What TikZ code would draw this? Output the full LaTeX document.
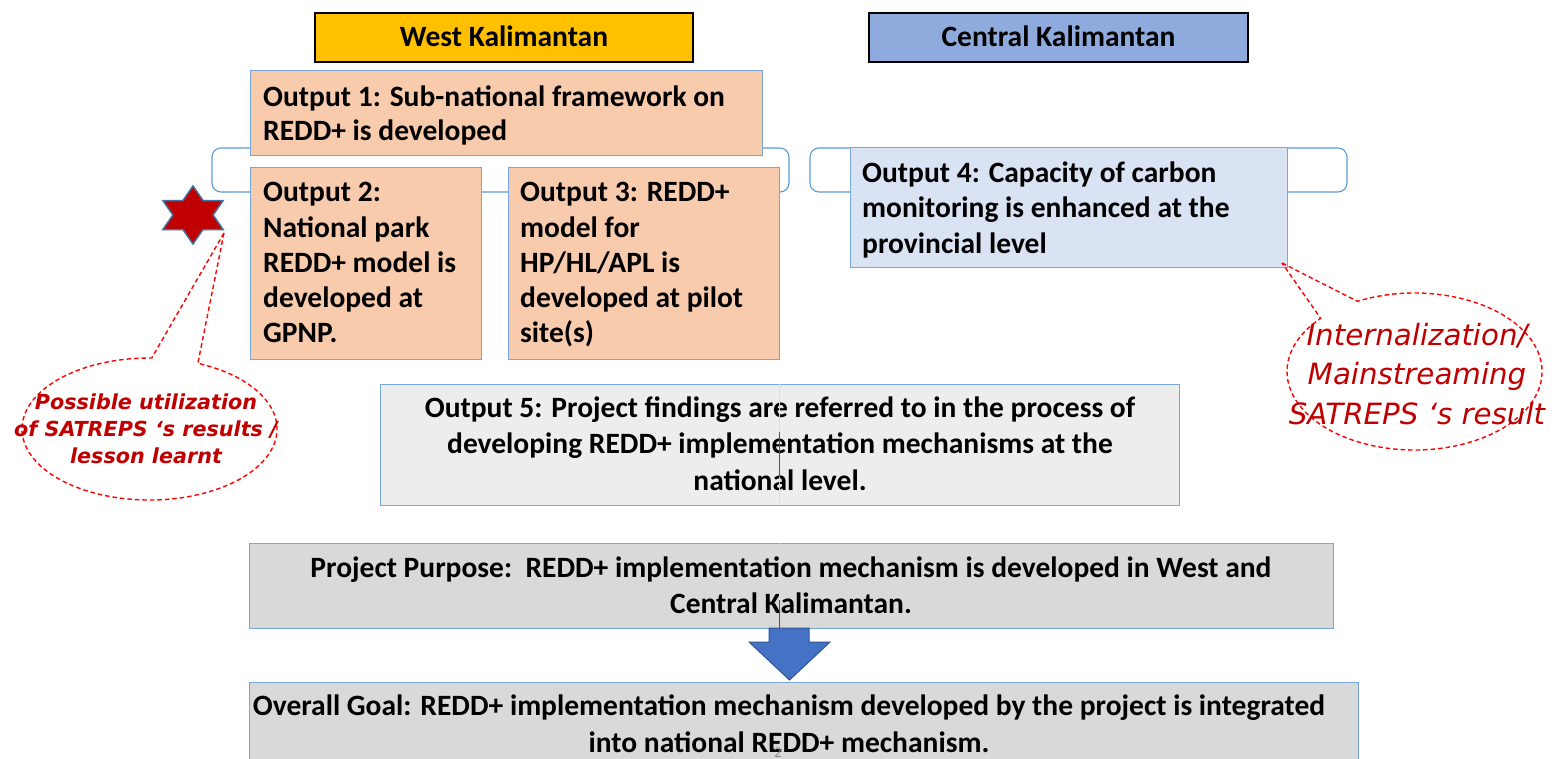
\documentclass[tikz,border=0pt]{standalone}
\usepackage{fontspec}
\setmainfont{Carlito}
\newfontfamily\djv{DejaVu Sans}
\definecolor{peach}{HTML}{F8CBAD}
\definecolor{lblue}{HTML}{DAE3F3}
\definecolor{lgrey}{HTML}{EDEDED}
\definecolor{mgrey}{HTML}{D9D9D9}
\definecolor{gold}{HTML}{FFC000}
\definecolor{cblue}{HTML}{8FAADC}
\definecolor{edge}{HTML}{7AA7DB}
\definecolor{brk}{HTML}{5B9BD5}
\definecolor{callred}{HTML}{FF0000}
\definecolor{txtred}{HTML}{C00000}
\definecolor{arrowfill}{HTML}{4472C4}
\definecolor{arrowedge}{HTML}{2F5597}
\definecolor{staredge}{HTML}{41719C}
\definecolor{pagegrey}{HTML}{8C8C8C}
\newcommand{\mainfs}[1]{\bfseries\fontsize{29.5}{#1}\selectfont}
\begin{document}
\begin{tikzpicture}[x=1pt,y=-1pt,
  box/.style={draw=edge, line width=1.3pt, inner sep=0pt, anchor=north west, rectangle},
  hdr/.style={draw=black, line width=2.2pt, inner sep=0pt, font=\mainfs{35}, text height=20pt, text depth=2pt},
  txt/.style={inner sep=0pt},
  bracket/.style={draw=brk, line width=1.1pt, rounded corners=9pt},
  callout/.style={draw=callred, line width=1.4pt, dash pattern=on 4.5pt off 3pt},
  calltxt/.style={inner sep=0pt, align=center, text=txtred},
  starsty/.style={fill=txtred, draw=staredge, line width=1.5pt, line join=miter},
  arrowsty/.style={fill=arrowfill, draw=arrowedge, line width=1pt},
  thinl/.style={draw=arrowedge, line width=0.8pt},
  faintl/.style={draw=edge!35, line width=0.5pt}
]
\clip (0,0) rectangle (1552,758);
\fill[white] (0,0) rectangle (1552,758);

% brackets
\draw[bracket] (212,148) rectangle (789,192);
\draw[bracket] (810,148) rectangle (1347,192);

% headers
\node[hdr, fill=gold, minimum width=378pt, minimum height=49pt] (west) at (504,37.5) {West Kalimantan};
\node[hdr, fill=cblue, minimum width=379pt, minimum height=49pt] (central) at (1058.5,37.5) {Central Kalimantan};

% output boxes
\node[box, fill=peach, minimum width=512pt, minimum height=85pt] (o1) at (250,70) {};
\node[box, fill=peach, minimum width=231pt, minimum height=192pt] (o2) at (250,167) {};
\node[box, fill=peach, minimum width=271pt, minimum height=192pt] (o3) at (508,167) {};
\node[box, fill=lblue, minimum width=437pt, minimum height=120pt] (o4) at (850,147) {};
\node[box, fill=lgrey, minimum width=799pt, minimum height=121pt] (o5) at (380,384) {};
\node[box, fill=mgrey, minimum width=1084pt, minimum height=85pt] (pp) at (249,543) {};
\node[box, fill=mgrey, minimum width=1109pt, minimum height=100pt] (og) at (249,682) {};

% texts
\node[txt, anchor=west, align=left, font=\mainfs{34}] (o1t) at (263,116.2)
  {\strut Output 1: Sub-national framework on\\REDD+ is developed\strut};
\node[txt, anchor=west, align=left, font=\mainfs{35.25}] (o2t) at (263,265.4)
  {\strut Output 2:\\National park\\REDD+ model is\\developed at\\GPNP.\strut};
\node[txt, anchor=west, align=left, font=\mainfs{35.25}] (o3t) at (520,265.4)
  {\strut Output 3: REDD+\\model for\\HP/HL/APL is\\developed at pilot\\site(s)\strut};
\node[txt, anchor=west, align=left, font=\mainfs{35.5}] (o4t) at (862,210.4)
  {\strut Output 4: Capacity of carbon\\monitoring is enhanced at the\\provincial level\strut};
\node[txt, align=center, font=\mainfs{36.5}] (o5t) at (780,446.2)
  {\strut Output 5: Project findings are referred to in the process of\\developing REDD+ implementation mechanisms at the\\national level.\strut};
\node[txt, align=center, font=\mainfs{36}] (ppt) at (791,587.8)
  {\strut Project Purpose:\ \ REDD+ implementation mechanism is developed in West and\\Central Kalimantan.\strut};
\node[txt, align=center, font=\mainfs{37}] (ogt) at (789,726.1)
  {\strut Overall Goal: REDD+ implementation mechanism developed by the project is integrated\\into national REDD+ mechanism.\strut};

% thin vertical lines
\coordinate (v1a) at (779,384); \coordinate (v1b) at (779,505);
\coordinate (v2a) at (779,432); \coordinate (v2b) at (779,477);
\coordinate (v3a) at (779,543); \coordinate (v3b) at (779,628);
\coordinate (v4a) at (779,600);
\draw[faintl] (v1a) -- (v1b);
\draw[faintl] (v3a) -- (v3b);
\draw[thinl] (v2a) -- (v2b);
\draw[thinl] (v4a) -- (v3b);

% block arrow
\draw[arrowsty] (769,628) -- (809,628) -- (809,642) -- (830,642) -- (789.5,680) -- (749,642) -- (769,642) -- cycle;

% star
\begin{scope}[shift={(193,215)}, xscale=1.2]
\draw[starsty] (90:29) -- (60:16.74) -- (30:29) -- (0:16.74) -- (-30:29) -- (-60:16.74)
  -- (-90:29) -- (-120:16.74) -- (-150:29) -- (180:16.74) -- (150:29) -- (120:16.74) -- cycle;
\end{scope}

% callouts
\coordinate (lc) at (149.5,429);
\coordinate (ltip) at (224,233);
\draw[callout] (ltip) -- ([shift={(-67.7:127.5 and 71)}]lc)
  arc[start angle=-67.7, end angle=271, x radius=127.5, y radius=71] -- cycle;
\node[calltxt, font=\djv\bfseries\itshape\fontsize{20.7}{27}\selectfont] (lct) at (146,430.6)
  {\strut Possible utilization\\of SATREPS ‘s results /\\lesson learnt\strut};

\coordinate (rc) at (1414.5,371.5);
\coordinate (rtip) at (1282,263);
\draw[callout] (rtip) -- ([shift={(243.4:127.5 and 78.5)}]rc)
  arc[start angle=243.4, end angle=582.6, x radius=127.5, y radius=78.5] -- cycle;
\node[calltxt, font=\djv\itshape\fontsize{29.3}{39.5}\selectfont] (rct) at (1417,376.6)
  {\strut Internalization/\\Mainstreaming\\SATREPS ‘s result\strut};

% page number
\node[txt, anchor=base, text=pagegrey, font=\fontsize{15}{18}\selectfont] (pg) at (778,757) {2};
\end{tikzpicture}
\end{document}
